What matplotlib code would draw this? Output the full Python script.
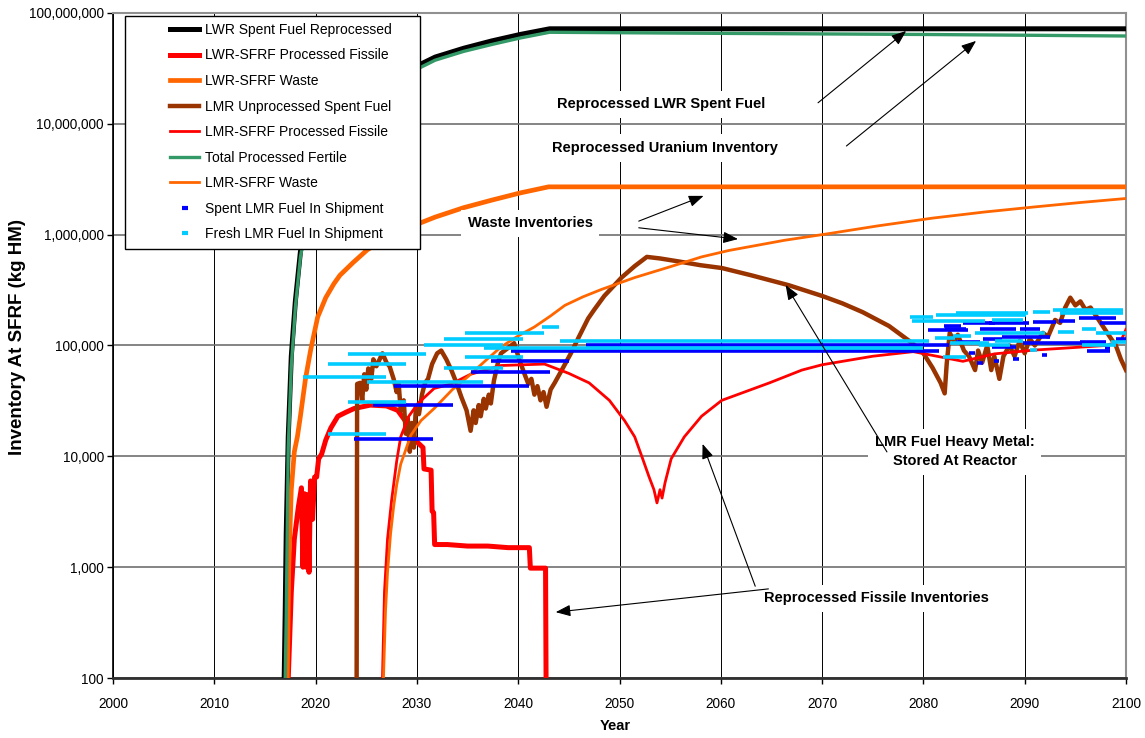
import matplotlib
matplotlib.use('Agg')
import matplotlib.pyplot as plt
from matplotlib.lines import Line2D
from matplotlib.patches import Rectangle
from matplotlib.legend_handler import HandlerLine2D
from matplotlib.ticker import FixedLocator, FuncFormatter, NullLocator

#==================================================================================
#     SFRF inventories (kg HM) by material stream, 2000 - 2100
#==================================================================================

# LWR Spent Fuel Reprocessed
lwr_reproc_yr = [2016.9, 2017.0, 2017.1, 2017.3, 2017.6, 2018.0, 2018.5, 2019.5, 2021.0, 2023.0,
                 2026.0, 2029.0, 2031.8, 2034.6, 2037.4, 2040.2, 2043.1, 2100.0]
lwr_reproc_val = [100, 400, 2.0e3, 1.5e4, 8.0e4, 2.5e5, 7.0e5, 2.2e6, 5.5e6, 1.1e7,
                  2.0e7, 3.0e7, 4.0e7, 4.8e7, 5.6e7, 6.4e7, 7.2e7, 7.2e7]

# LWR-SFRF Processed Fissile
lwr_fis_yr = [2017.3, 2017.6, 2017.9, 2018.3, 2018.6, 2018.75, 2018.9, 2019.05, 2019.2, 2019.35,
              2019.5, 2019.7, 2019.9, 2020.1, 2020.3, 2020.6, 2021.0, 2021.5, 2022.2, 2023.0,
              2023.8, 2025.4, 2027.0, 2028.1, 2029.0, 2030.0, 2030.6, 2030.7, 2031.4, 2031.5,
              2031.65, 2031.75, 2033.0, 2035.0, 2037.0, 2039.0, 2041.1, 2041.2, 2042.7, 2042.75]
lwr_fis_val = [100, 600, 1800, 3500, 5200, 1000, 4600, 1000, 4500, 900,
               6000, 2700, 6500, 6500, 9500, 1.05e4, 1.4e4, 1.8e4, 2.3e4, 2.5e4,
               2.7e4, 2.9e4, 2.85e4, 2.6e4, 2.0e4, 1.35e4, 1.2e4, 7.7e3, 7.5e3, 3.2e3,
               3.1e3, 1.6e3, 1.6e3, 1.55e3, 1.55e3, 1.5e3, 1.5e3, 980, 980, 100]

# LWR-SFRF Waste
lwr_waste_yr = [2017.2, 2017.35, 2017.6, 2017.9, 2018.2, 2018.5, 2019.0, 2019.5, 2020.2, 2021.0,
                2021.8, 2022.4, 2023.7, 2025.1, 2028.0, 2031.8, 2034.6, 2037.4, 2040.2, 2043.0,
                2100.0]
lwr_waste_val = [100, 1.0e3, 5.0e3, 1.1e4, 1.5e4, 2.3e4, 5.0e4, 9.0e4, 1.8e5, 2.7e5,
                 3.6e5, 4.3e5, 5.6e5, 7.3e5, 1.05e6, 1.44e6, 1.75e6, 2.05e6, 2.38e6, 2.7e6,
                 2.7e6]

# LMR Unprocessed Spent Fuel
lmr_spent_yr = [2024.05, 2024.1, 2024.4, 2024.6, 2024.8, 2025.0, 2025.2, 2025.5, 2025.7, 2026.0,
                2026.6, 2027.0, 2027.3, 2027.7, 2028.0, 2028.2, 2028.4, 2028.7, 2028.9, 2029.1,
                2029.3, 2029.5, 2029.7, 2029.9, 2030.2, 2030.5, 2030.8, 2031.1, 2031.5, 2032.0,
                2032.4, 2032.9, 2033.4, 2033.9, 2034.4, 2034.9, 2035.3, 2035.6, 2035.8, 2036.1,
                2036.3, 2036.6, 2036.8, 2037.1, 2037.3, 2037.6, 2038.0, 2038.3, 2039.0, 2039.6,
                2040.1, 2040.6, 2041.0, 2041.3, 2041.6, 2041.9, 2042.2, 2042.5, 2042.8, 2043.2,
                2043.6, 2044.3, 2045.2, 2046.0, 2046.9, 2047.5, 2048.5, 2050.2, 2051.5, 2052.7,
                2054.0, 2056.0, 2058.0, 2060.1, 2063.0, 2066.7, 2070.0, 2072.0, 2074.0, 2076.6,
                2078.9, 2080.0, 2080.9, 2081.7, 2082.1, 2082.3, 2082.6, 2083.0, 2083.4, 2084.0,
                2084.5, 2085.1, 2085.4, 2085.8, 2086.3, 2086.7, 2087.0, 2087.5, 2087.9, 2088.5,
                2089.0, 2089.5, 2090.0, 2090.5, 2091.0, 2091.8, 2092.3, 2093.0, 2093.5, 2094.0,
                2094.5, 2095.0, 2095.5, 2096.0, 2096.5, 2097.5, 2098.4, 2099.0, 2099.5, 2100.0]
lmr_spent_val = [100, 4.5e4, 4.6e4, 3.2e4, 5.5e4, 4.0e4, 6.2e4, 5.0e4, 7.5e4, 6.5e4,
                 8.5e4, 7.0e4, 6.5e4, 5.0e4, 3.8e4, 4.5e4, 2.6e4, 3.2e4, 1.6e4, 2.2e4,
                 1.1e4, 2.0e4, 1.2e4, 2.8e4, 2.4e4, 3.6e4, 4.6e4, 5.0e4, 6.8e4, 8.5e4,
                 9.0e4, 7.5e4, 6.0e4, 4.6e4, 3.4e4, 2.6e4, 1.7e4, 2.6e4, 2.0e4, 2.9e4,
                 2.3e4, 3.3e4, 2.7e4, 3.6e4, 3.0e4, 4.8e4, 7.0e4, 8.5e4, 9.5e4, 1.05e5,
                 7.5e4, 5.6e4, 4.5e4, 5.0e4, 3.6e4, 4.3e4, 3.2e4, 3.8e4, 2.8e4, 4.0e4,
                 4.6e4, 6.0e4, 8.5e4, 1.2e5, 1.75e5, 2.1e5, 2.8e5, 4.1e5, 5.2e5, 6.3e5,
                 6.1e5, 5.7e5, 5.3e5, 5.0e5, 4.3e5, 3.5e5, 2.8e5, 2.4e5, 2.0e5, 1.5e5,
                 1.05e5, 8.5e4, 6.3e4, 4.6e4, 3.7e4, 6.8e4, 1.3e5, 1.1e5, 1.25e5, 9.0e4,
                 8.0e4, 6.0e4, 9.0e4, 7.0e4, 1.0e5, 6.0e4, 8.0e4, 5.0e4, 8.0e4, 1.0e5,
                 8.0e4, 1.1e5, 8.5e4, 1.15e5, 1.0e5, 1.3e5, 1.2e5, 1.7e5, 1.6e5, 2.2e5,
                 2.7e5, 2.3e5, 2.5e5, 2.1e5, 2.2e5, 1.6e5, 1.2e5, 1.0e5, 7.5e4, 6.0e4]

# LMR-SFRF Processed Fissile
lmr_fis_yr = [2026.6, 2026.8, 2027.1, 2027.5, 2028.0, 2028.4, 2029.2, 2030.1, 2031.7, 2033.4,
              2035.3, 2038.3, 2042.6, 2045.0, 2047.0, 2049.0, 2050.5, 2051.5, 2052.2, 2052.9,
              2053.4, 2053.7, 2054.0, 2054.2, 2054.5, 2055.1, 2056.4, 2058.1, 2060.1, 2064.8,
              2068.0, 2070.0, 2075.0, 2079.0, 2083.9, 2087.0, 2091.0, 2095.0, 2098.0, 2099.5,
              2100.0]
lmr_fis_val = [100, 600, 1800, 4000, 9000, 1.5e4, 2.3e4, 3.0e4, 4.1e4, 4.5e4,
               5.5e4, 6.6e4, 6.8e4, 5.6e4, 4.6e4, 3.2e4, 2.1e4, 1.5e4, 1.0e4, 6.6e3,
               5.0e3, 3.8e3, 5.0e3, 4.2e3, 5.8e3, 9.5e3, 1.5e4, 2.3e4, 3.2e4, 4.6e4,
               6.0e4, 6.7e4, 8.0e4, 8.8e4, 7.2e4, 8.4e4, 9.1e4, 9.6e4, 1.0e5, 1.1e5,
               1.4e5]

# Total Processed Fertile
fertile_yr = [2017.0, 2017.1, 2017.3, 2017.6, 2018.0, 2018.5, 2019.5, 2021.0, 2023.0, 2026.0,
              2029.0, 2031.8, 2034.6, 2037.4, 2040.2, 2043.1, 2060.0, 2080.0, 2100.0]
fertile_val = [100, 350, 1.2e4, 6.5e4, 2.2e5, 6.3e5, 2.0e6, 5.0e6, 1.0e7, 1.85e7,
               2.8e7, 3.75e7, 4.5e7, 5.2e7, 5.95e7, 6.7e7, 6.55e7, 6.4e7, 6.2e7]

# LMR-SFRF Waste
lmr_waste_yr = [2026.7, 2026.9, 2027.1, 2027.4, 2027.7, 2028.0, 2028.4, 2029.4, 2030.4, 2031.7,
                2033.5, 2035.0, 2036.7, 2038.3, 2040.0, 2041.6, 2043.2, 2044.6, 2046.4, 2048.2,
                2051.5, 2054.9, 2058.1, 2060.8, 2066.3, 2070.6, 2075.5, 2080.9, 2086.0, 2091.0,
                2095.5, 2100.0]
lmr_waste_val = [100, 400, 900, 2.0e3, 3.5e3, 5.5e3, 8.5e3, 1.55e4, 2.1e4, 2.7e4,
                 4.0e4, 5.2e4, 7.2e4, 9.7e4, 1.22e5, 1.47e5, 1.85e5, 2.3e5, 2.75e5, 3.2e5,
                 4.1e5, 5.1e5, 6.3e5, 7.2e5, 8.9e5, 1.02e6, 1.2e6, 1.41e6, 1.6e6, 1.78e6,
                 1.95e6, 2.12e6]

# Spent LMR Fuel In Shipment: each batch is in transit from start to end year
spent_ship_start = [2023.8, 2025.7, 2027.7, 2035.3, 2037.3, 2039.3, 2046.7,
                    2082.0, 2083.9, 2086.5, 2089.5, 2090.8, 2093.4, 2095.4, 2097.4, 2082.1, 2085.6,
                    2087.8, 2083.2, 2085.9, 2089.8, 2095.5, 2086.8, 2096.7, 2099.0, 2084.5, 2088.8,
                    2087.0, 2085.3, 2091.7, 2096.2, 2097.9, 2080.5]
spent_ship_end = [2031.6, 2033.6, 2041.1, 2043.1, 2045.0, 2081.5, 2082.5,
                  2083.7, 2087.1, 2090.4, 2091.5, 2093.1, 2095.0, 2099.0, 2100.0, 2084.2, 2089.1,
                  2092.5, 2085.6, 2087.8, 2096.0, 2098.0, 2089.1, 2098.4, 2100.2, 2085.1, 2089.4,
                  2087.5, 2085.9, 2092.2, 2096.7, 2098.4, 2084.4]
spent_ship_val = [1.43e4, 2.9e4, 4.3e4, 5.8e4, 7.2e4, 8.9e4, 1.0e5,
                  1.5e5, 1.6e5, 1.58e5, 1.4e5, 1.62e5, 1.65e5, 1.78e5, 1.6e5, 1.4e5, 1.4e5,
                  1.2e5, 1.07e5, 1.15e5, 1.05e5, 1.08e5, 9.6e4, 9.0e4, 1.15e5, 8.6e4, 7.5e4,
                  7.2e4, 7.0e4, 8.2e4, 9.0e4, 9.5e4, 1.37e5]

# Fresh LMR Fuel In Shipment
fresh_ship_start = [2018.8, 2021.2, 2023.2, 2021.2, 2023.2, 2025.1, 2030.7, 2032.7, 2034.7, 2042.3,
                    2034.7, 2032.7, 2036.6, 2044.1,
                    2078.7, 2078.9, 2081.2, 2083.2, 2090.8, 2092.8, 2093.5, 2086.8, 2093.3, 2095.7,
                    2085.1, 2081.1, 2082.9, 2087.1, 2097.0, 2098.5, 2082.6, 2085.5, 2095.7, 2081.9,
                    2090.5]
fresh_ship_end = [2026.9, 2028.9, 2030.9, 2026.9, 2028.9, 2036.5, 2038.5, 2040.5, 2042.5, 2044.0,
                  2040.5, 2038.5, 2080.0, 2080.6,
                  2080.9, 2086.1, 2090.1, 2090.3, 2092.5, 2099.7, 2099.7, 2089.8, 2094.9, 2097.0,
                  2092.0, 2083.1, 2084.7, 2089.8, 2100.3, 2100.3, 2086.5, 2088.5, 2099.0, 2084.2,
                  2091.2]
fresh_ship_val = [5.2e4, 6.8e4, 8.4e4, 1.58e4, 3.1e4, 4.7e4, 1.0e5, 1.14e5, 1.3e5, 1.47e5,
                  7.9e4, 6.3e4, 9.4e4, 1.1e5,
                  1.8e5, 1.66e5, 1.88e5, 1.96e5, 2.0e5, 2.1e5, 1.98e5, 1.7e5, 1.32e5, 1.4e5,
                  1.3e5, 1.17e5, 1.22e5, 1.1e5, 1.3e5, 1.07e5, 1.05e5, 1.02e5, 1.0e5, 7.9e4,
                  9.2e4]

decades = [1e2, 1e3, 1e4, 1e5, 1e6, 1e7, 1e8]
years = list(range(2000, 2101, 10))

# Excel-like palette
C_BLACK = '#000000'
C_RED = '#FF0000'
C_ORANGE = '#FF6600'
C_BROWN = '#993300'
C_GREEN = '#339966'
C_BLUE = '#0000FF'
C_CYAN = '#00CCFF'

plt.rcParams['font.family'] = 'Liberation Sans'


class OffsetLine(HandlerLine2D):
    """Draws the legend sample only in the right part of the handle box."""
    def __init__(self, frac, **kw):
        super().__init__(**kw)
        self.frac = frac

    def create_artists(self, legend, orig_handle, xdescent, ydescent, width,
                       height, fontsize, trans):
        shift = width * self.frac
        return super().create_artists(legend, orig_handle, xdescent - shift, ydescent,
                                      width - shift, height, fontsize, trans)


fig = plt.figure(figsize=(11.45, 7.38), dpi=100)
ax = fig.add_axes([0.0987, 0.0813, 0.8847, 0.9011])
ax.set_yscale('log')
ax.set_xlim(2000, 2100)
ax.set_ylim(100, 1e8)

ax.plot(lwr_reproc_yr, lwr_reproc_val, color=C_BLACK, lw=3.6, label='LWR Spent Fuel Reprocessed', zorder=3)
ax.plot(lwr_fis_yr, lwr_fis_val, color=C_RED, lw=3.6, label='LWR-SFRF Processed Fissile', zorder=3.1)
ax.plot(lwr_waste_yr, lwr_waste_val, color=C_ORANGE, lw=3.4, label='LWR-SFRF Waste', zorder=3.2)
ax.plot(lmr_spent_yr, lmr_spent_val, color=C_BROWN, lw=3.2, label='LMR Unprocessed Spent Fuel', zorder=3.3)
ax.plot(lmr_fis_yr, lmr_fis_val, color=C_RED, lw=2.0, label='LMR-SFRF Processed Fissile', zorder=3.4)
ax.plot(fertile_yr, fertile_val, color=C_GREEN, lw=2.4, label='Total Processed Fertile', zorder=3.5)
ax.plot(lmr_waste_yr, lmr_waste_val, color=C_ORANGE, lw=2.0, label='LMR-SFRF Waste', zorder=3.6)

ax.hlines(spent_ship_val, spent_ship_start, spent_ship_end, color=C_BLUE, lw=2.6, zorder=3.7)
ax.hlines(fresh_ship_val, fresh_ship_start, fresh_ship_end, color=C_CYAN, lw=2.6, zorder=3.8)

# axes, grid and ticks
ax.set_axisbelow(True)
ax.yaxis.set_major_locator(FixedLocator(decades))
ax.yaxis.set_minor_locator(NullLocator())
ax.yaxis.set_major_formatter(FuncFormatter(lambda v, p: f'{v:,.0f}'))
ax.set_xticks(years)
ax.xaxis.grid(True, color='black', lw=0.7)
ax.yaxis.grid(True, color='#707070', lw=1.2)
ax.tick_params(axis='y', direction='out', length=4, width=1, pad=2.5, labelsize=9.8)
ax.tick_params(axis='x', direction='out', length=4, width=1, pad=10, labelsize=9.8)
ax.spines['left'].set_color('black')
ax.spines['left'].set_linewidth(1.2)
ax.spines['bottom'].set_color('#303030')
ax.spines['bottom'].set_linewidth(2.0)
for s in ('top', 'right'):
    ax.spines[s].set_color('#909090')
    ax.spines[s].set_linewidth(1.5)

fig.text(18 / 1145, 1 - 337 / 738, 'Inventory At SFRF (kg HM)', rotation=90,
         ha='center', va='center', fontsize=13.5, fontweight='bold')
fig.text(615 / 1145, 1 - 726 / 738, 'Year', ha='center', va='center',
         fontsize=10.5, fontweight='bold')

# legend: white box with a thin black frame, entries laid over it
ax.add_patch(Rectangle((12 / 1013, (678 - 249) / 665), 295 / 1013, 233 / 665,
                       transform=ax.transAxes, fc='white', ec='black', lw=1.0,
                       zorder=9, clip_on=False))
handles, labels = ax.get_legend_handles_labels()
handles += [Line2D([], [], ls='none', marker='_', color=C_BLUE, ms=4.5, mew=3),
            Line2D([], [], ls='none', marker='_', color=C_CYAN, ms=4.5, mew=3)]
labels += ['Spent LMR Fuel In Shipment', 'Fresh LMR Fuel In Shipment']
leg = ax.legend(handles, labels, loc='upper left', bbox_to_anchor=(0.01876, 0.985),
                borderaxespad=0, borderpad=0, fontsize=10, frameon=False,
                labelspacing=0.83, handlelength=4.84, handletextpad=0.4, numpoints=1,
                handler_map={Line2D: OffsetLine(0.565)})
leg.set_zorder(10)

# callouts
box = dict(boxstyle='square,pad=0.45', fc='white', ec='none')
txt = dict(transform=ax.transAxes, ha='center', va='center', fontsize=10.5,
           fontweight='bold', bbox=box, zorder=6)
ax.text(0.541, 0.863, 'Reprocessed LWR Spent Fuel', **txt)
ax.text(0.545, 0.797, 'Reprocessed Uranium Inventory', **txt)
ax.text(0.412, 0.684, 'Waste Inventories', **txt)
ax.text(0.831, 0.340, 'LMR Fuel Heavy Metal:\nStored At Reactor', linespacing=1.45, **txt)
ax.text(0.754, 0.120, 'Reprocessed Fissile Inventories', **txt)

arrow = dict(arrowstyle='-|>,head_length=0.9,head_width=0.35', color='black', lw=0.8,
             shrinkA=0, shrinkB=0)
callouts = [((0.696, 0.865), (0.783, 0.973)),
            ((0.724, 0.800), (0.852, 0.958)),
            ((0.519, 0.687), (0.583, 0.725)),
            ((0.519, 0.677), (0.617, 0.660)),
            ((0.764, 0.340), (0.664, 0.591)),
            ((0.634, 0.138), (0.582, 0.352)),
            ((0.647, 0.134), (0.437, 0.099))]
for tail, tip in callouts:
    ax.annotate('', xy=tip, xytext=tail, xycoords='axes fraction',
                textcoords='axes fraction', arrowprops=arrow, zorder=7)

fig.savefig('out.png', dpi=100)
